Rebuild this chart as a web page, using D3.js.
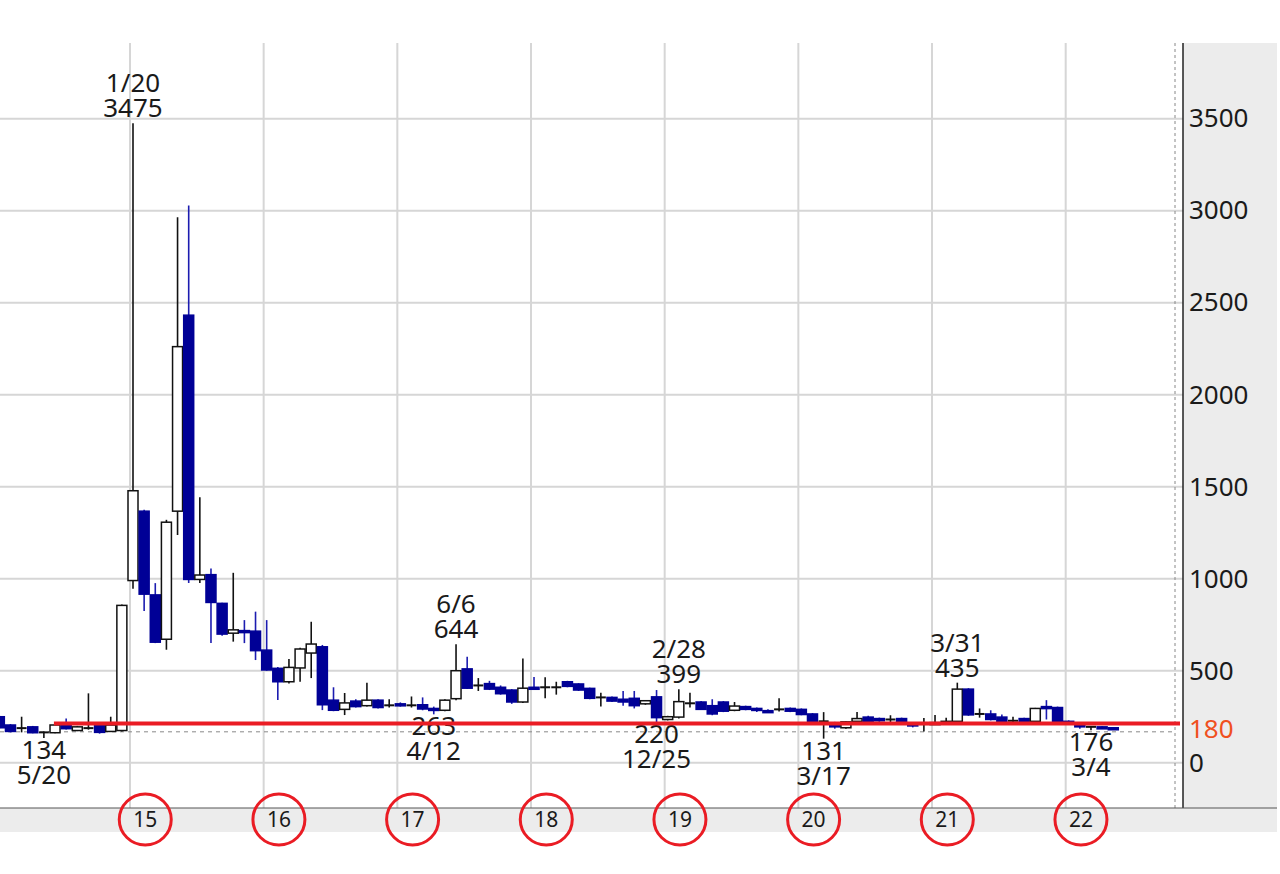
<!DOCTYPE html>
<html>
<head>
<meta charset="utf-8">
<script src="https://cdn.jsdelivr.net/npm/d3@7/dist/d3.min.js"></script>
<style>
  html, body { margin: 0; padding: 0; background: #ffffff; }
  svg { display: block; }
</style>
</head>
<body>
<svg id="chart" width="1280" height="874"></svg>
<script>
// ---------------- DATA (monthly candles, Jan 2014 .. May 2022) ----------------
const months = [
  "2014-01","2014-02","2014-03","2014-04","2014-05","2014-06","2014-07","2014-08","2014-09","2014-10","2014-11","2014-12",
  "2015-01","2015-02","2015-03","2015-04","2015-05","2015-06","2015-07","2015-08","2015-09","2015-10","2015-11","2015-12",
  "2016-01","2016-02","2016-03","2016-04","2016-05","2016-06","2016-07","2016-08","2016-09","2016-10","2016-11","2016-12",
  "2017-01","2017-02","2017-03","2017-04","2017-05","2017-06","2017-07","2017-08","2017-09","2017-10","2017-11","2017-12",
  "2018-01","2018-02","2018-03","2018-04","2018-05","2018-06","2018-07","2018-08","2018-09","2018-10","2018-11","2018-12",
  "2019-01","2019-02","2019-03","2019-04","2019-05","2019-06","2019-07","2019-08","2019-09","2019-10","2019-11","2019-12",
  "2020-01","2020-02","2020-03","2020-04","2020-05","2020-06","2020-07","2020-08","2020-09","2020-10","2020-11","2020-12",
  "2021-01","2021-02","2021-03","2021-04","2021-05","2021-06","2021-07","2021-08","2021-09","2021-10","2021-11","2021-12",
  "2022-01","2022-02","2022-03","2022-04","2022-05"
];
const openV = [
  250,205,188,195,165,163,210,175,188,205,170,175,
  990,1367,912,671,1367,2432,996,1022,866,704,718,715,
  612,513,440,515,596,630,340,290,335,310,340,312,
  320,312,315,295,285,348,510,420,430,410,395,330,
  410,410,410,440,428,404,355,355,345,350,320,358,
  235,248,323,330,310,330,285,305,295,283,290,295,
  290,265,225,215,190,225,248,240,235,240,215,210,
  215,220,225,400,265,265,248,228,240,225,305,300,
  225,210,195,195,190
];
const highV = [
  255,210,250,200,170,210,240,200,377,210,250,860,
  3475,1375,976,1320,2964,3028,1442,1056,870,1032,775,821,
  775,520,564,625,766,640,410,379,345,435,345,345,
  328,360,355,305,345,644,576,460,445,420,400,567,
  466,465,440,445,432,408,380,360,390,390,340,395,
  255,399,380,335,345,335,330,310,300,290,350,300,
  295,270,275,222,225,275,255,245,258,245,220,243,
  260,245,435,405,295,285,262,250,245,298,340,305,
  230,212,200,198,192
];
const lowV = [
  185,165,165,160,134,160,180,172,180,158,168,170,
  946,825,650,614,1237,976,976,650,690,658,650,558,
  500,341,430,440,460,286,280,259,300,305,295,300,
  305,300,285,263,280,340,400,390,395,370,320,325,
  395,350,370,410,390,345,305,330,310,295,315,220,
  230,240,300,288,258,275,280,285,275,275,278,275,
  258,220,131,185,185,220,220,222,215,205,192,170,
  205,215,220,255,245,230,222,220,222,222,235,220,
  205,185,176,183,182
];
const closeV = [
  190,170,188,163,165,205,185,195,188,165,205,855,
  1478,916,655,1307,2261,996,1020,871,699,722,710,609,
  504,440,518,618,645,315,285,325,305,340,300,312,
  310,312,292,285,340,500,405,420,400,375,330,405,
  400,410,410,415,395,350,355,335,330,310,337,245,
  250,332,323,290,265,280,308,290,285,280,290,280,
  262,225,225,195,222,240,225,228,235,210,200,210,
  218,225,400,260,265,235,225,228,225,295,300,225,
  210,195,195,188,185
];

// annotated highs / lows
const noteIndex = [12, 41, 61, 86, 4, 39, 59, 74, 98];
const noteDate  = ["1/20","6/6","2/28","3/31","5/20","4/12","12/25","3/17","3/4"];
const noteValue = [3475, 644, 399, 435, 134, 263, 220, 131, 176];
const noteSide  = ["high","high","high","high","low","low","low","low","low"];

const yTicks = [0, 500, 1000, 1500, 2000, 2500, 3000, 3500];
const yearLabels = ["15","16","17","18","19","20","21","22"];
const yearStartIndex = [12, 24, 36, 48, 60, 72, 84, 96];

const markLevel = 180;      // orange price label
const redLineLevel = 213;   // hand drawn red line
const lastPriceLevel = 168; // dashed line

// ---------------- LAYOUT ----------------
const W = 1280, H = 874;
const plotTop = 43, plotBottom = 808, axisX = 1183, dottedX = 1175;
const bandBottom = 832, grayRight = 1277;

const svg = d3.select("#chart");
const x = d3.scaleLinear().domain([12, 96]).range([133, 1068.7]);
const y = d3.scaleLinear().domain([-246, 3911]).range([plotBottom, plotTop]);
const bodyW = 10;
const FONT = "'Noto Sans', 'DejaVu Sans', sans-serif";

const data = months.map((m, i) => ({i, m, o: openV[i], h: highV[i], l: lowV[i], c: closeV[i]}));

// background panels
svg.append("rect").attr("x", 0).attr("y", 0).attr("width", W).attr("height", H).attr("fill", "#fff");
svg.append("rect").attr("x", axisX).attr("y", plotTop).attr("width", grayRight - axisX).attr("height", bandBottom - plotTop).attr("fill", "#ececec");
svg.append("rect").attr("x", 0).attr("y", plotBottom).attr("width", grayRight).attr("height", bandBottom - plotBottom).attr("fill", "#ececec");

svg.append("clipPath").attr("id", "plotclip")
  .append("rect").attr("x", 0).attr("y", plotTop).attr("width", axisX).attr("height", plotBottom - plotTop);

// horizontal grid
svg.append("g").selectAll("line").data(yTicks).join("line")
  .attr("x1", 0).attr("x2", axisX)
  .attr("y1", d => y(d)).attr("y2", d => y(d))
  .attr("stroke", "#d6d6d6").attr("stroke-width", 2);

// vertical grid (year starts)
svg.append("g").selectAll("line").data(yearStartIndex).join("line")
  .attr("x1", d => x(d - 0.27)).attr("x2", d => x(d - 0.27))
  .attr("y1", plotTop).attr("y2", plotBottom)
  .attr("stroke", "#d6d6d6").attr("stroke-width", 2);

// dotted vertical line near axis
svg.append("line").attr("x1", dottedX).attr("x2", dottedX).attr("y1", plotTop).attr("y2", plotBottom)
  .attr("stroke", "#888").attr("stroke-width", 1).attr("stroke-dasharray", "3,3");

// dashed last-price line
svg.append("line").attr("x1", 0).attr("x2", dottedX)
  .attr("y1", y(lastPriceLevel)).attr("y2", y(lastPriceLevel))
  .attr("stroke", "#888").attr("stroke-width", 1).attr("stroke-dasharray", "4,4");

// candles
const cg = svg.append("g").attr("clip-path", "url(#plotclip)");
const isDoji = d => d.o === d.c;
const isUp = d => d.c > d.o;
const wickColor = d => (isDoji(d) || isUp(d)) ? "#111" : "#1c1cb0";

cg.selectAll("line.wick").data(data).join("line").attr("class", "wick")
  .attr("x1", d => x(d.i)).attr("x2", d => x(d.i))
  .attr("y1", d => y(d.h)).attr("y2", d => y(d.l))
  .attr("stroke", wickColor).attr("stroke-width", 1.6);

cg.selectAll("rect.body").data(data.filter(d => !isDoji(d))).join("rect").attr("class", "body")
  .attr("x", d => x(d.i) - bodyW / 2)
  .attr("width", bodyW)
  .attr("y", d => y(Math.max(d.o, d.c)))
  .attr("height", d => Math.max(2, y(Math.min(d.o, d.c)) - y(Math.max(d.o, d.c))))
  .attr("fill", d => isUp(d) ? "#fff" : "#000096")
  .attr("stroke", d => isUp(d) ? "#111" : "#000096")
  .attr("stroke-width", 1.5);

cg.selectAll("line.doji").data(data.filter(isDoji)).join("line").attr("class", "doji")
  .attr("x1", d => x(d.i) - bodyW / 2).attr("x2", d => x(d.i) + bodyW / 2)
  .attr("y1", d => y(d.o)).attr("y2", d => y(d.o))
  .attr("stroke", "#111").attr("stroke-width", 2);

// annotations (two stacked lines in one text element)
const notes = noteIndex.map((idx, k) => ({idx, date: noteDate[k], val: noteValue[k], side: noteSide[k]}));
const ng = svg.append("g").attr("font-family", FONT).attr("font-size", 26).attr("fill", "#1a1a1a").attr("text-anchor", "middle");
notes.forEach(n => {
  const cx = x(n.idx);
  const t = ng.append("text");
  if (n.side === "high") {
    const b = y(n.val) - 6;
    t.append("tspan").attr("x", cx).attr("y", b - 25).text(n.date);
    t.append("tspan").attr("x", cx).attr("y", b).text(n.val);
  } else {
    const b = y(n.val) + 21;
    t.append("tspan").attr("x", cx).attr("y", b).text(n.val);
    t.append("tspan").attr("x", cx).attr("y", b + 25).text(n.date);
  }
});

// red line
svg.append("line").attr("x1", x(4.9)).attr("x2", axisX - 3)
  .attr("y1", y(redLineLevel)).attr("y2", y(redLineLevel))
  .attr("stroke", "#ea1c24").attr("stroke-width", 4);

// axis line + bottom line
svg.append("line").attr("x1", axisX).attr("x2", axisX).attr("y1", plotTop).attr("y2", plotBottom)
  .attr("stroke", "#222").attr("stroke-width", 1.5);
svg.append("line").attr("x1", 0).attr("x2", grayRight).attr("y1", plotBottom).attr("y2", plotBottom)
  .attr("stroke", "#555").attr("stroke-width", 1);

// y axis
const yAxis = d3.axisRight(y).tickValues(yTicks).tickSize(0).tickPadding(6).tickFormat(d3.format("d"));
const ya = svg.append("g").attr("transform", `translate(${axisX},0)`).call(yAxis);
ya.select(".domain").remove();
ya.selectAll("text").attr("font-family", FONT).attr("font-size", 26).attr("fill", "#1a1a1a");
svg.append("text").attr("x", axisX + 6).attr("y", y(markLevel)).attr("dy", "0.32em")
  .attr("font-family", FONT).attr("font-size", 26).attr("fill", "#f0501e").text(markLevel);

// year labels + red circles
const yl = yearStartIndex.map((idx, k) => ({idx, label: yearLabels[k]}));
svg.append("g").selectAll("text").data(yl).join("text")
  .attr("x", d => x(d.idx + 1.1)).attr("y", 820).attr("dy", "0.35em")
  .attr("text-anchor", "middle").attr("font-family", FONT).attr("font-size", 21).attr("fill", "#1a1a1a")
  .text(d => d.label);
svg.append("g").selectAll("ellipse").data(yl).join("ellipse")
  .attr("cx", d => x(d.idx + 1.1)).attr("cy", 819.5).attr("rx", 26).attr("ry", 25.5)
  .attr("fill", "none").attr("stroke", "#ea1c24").attr("stroke-width", 3);
</script>
</body>
</html>
